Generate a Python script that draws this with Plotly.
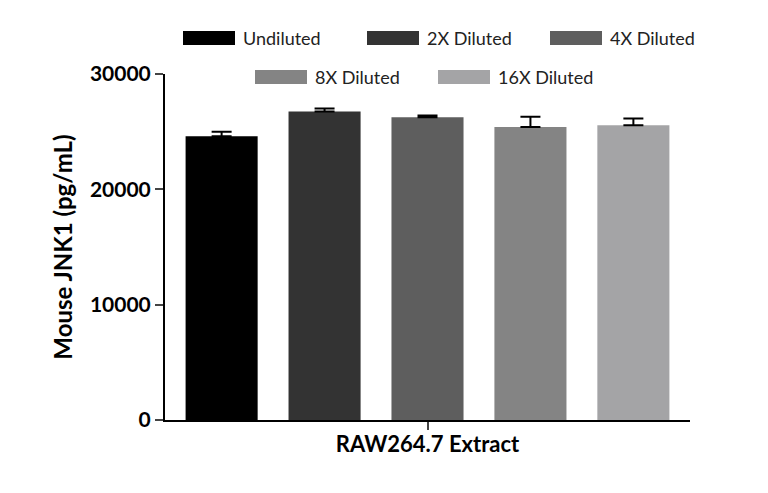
import plotly.graph_objects as go

categories = ["Undiluted", "2X Diluted", "4X Diluted", "8X Diluted", "16X Diluted"]
values = [24600, 26750, 26250, 25400, 25550]
errors = [400, 250, 150, 900, 600]
colors = ["#000000", "#333333", "#5e5e5e", "#848484", "#a4a4a6"]
yticks = [0, 10000, 20000, 30000]

L, R, T, B = 157, 86, 66, 81
W, H = 768, 493
pw, ph = W - L - R, H - T - B
OFF = 8  # page offset

fig = go.Figure()
for i, (c, v, e, col) in enumerate(zip(categories, values, errors, colors)):
    fig.add_bar(x=[i], y=[v], marker_color=col, marker_line_width=0, width=0.7,
                error_y=dict(type="data", array=[e], arrayminus=[0], symmetric=False,
                             color="black", thickness=2, width=10),
                showlegend=False, name=c)

legend_pos = [(183, 38), (367, 38), (550, 38), (255, 77), (438, 77)]
for (px, py), c, col in zip(legend_pos, categories, colors):
    px -= OFF; py -= OFF
    x0 = (px - L) / pw; x1 = (px + 52 - L) / pw
    y0 = (H - B - py - 7) / ph; y1 = (H - B - py + 7) / ph
    fig.add_shape(type="rect", xref="paper", yref="paper", x0=x0, x1=x1, y0=y0, y1=y1,
                  fillcolor=col, line_width=0)
    fig.add_annotation(xref="paper", yref="paper", x=(px + 58 - L) / pw, y=(H - B - py) / ph,
                       text=c, showarrow=False, xanchor="left", yanchor="middle",
                       font=dict(size=18, color="#222"))

fig.update_layout(
    width=W, height=H, margin=dict(l=L, r=R, t=T, b=B),
    plot_bgcolor="white", paper_bgcolor="white",
    font=dict(family="Lato", color="black"),
    xaxis=dict(range=[-0.55, 4.55], showticklabels=False, tickvals=[2], ticks="outside",
               ticklen=8, tickwidth=2, showline=True, linewidth=2, linecolor="black",
               title=dict(text="<b>RAW264.7 Extract</b>", font=dict(size=22), standoff=8),
               showgrid=False, zeroline=False),
    yaxis=dict(range=[0, 30000], tickvals=yticks, ticktext=[f"<b>{t}</b>" for t in yticks],
               tickfont=dict(size=21), ticks="outside", ticklen=8, tickwidth=2,
               showline=True, linewidth=2, linecolor="black", showgrid=False, zeroline=False,
               title=dict(text="<b>Mouse JNK1 (pg/mL)</b>", font=dict(size=24), standoff=10)),
)
fig.write_html("out.html")
